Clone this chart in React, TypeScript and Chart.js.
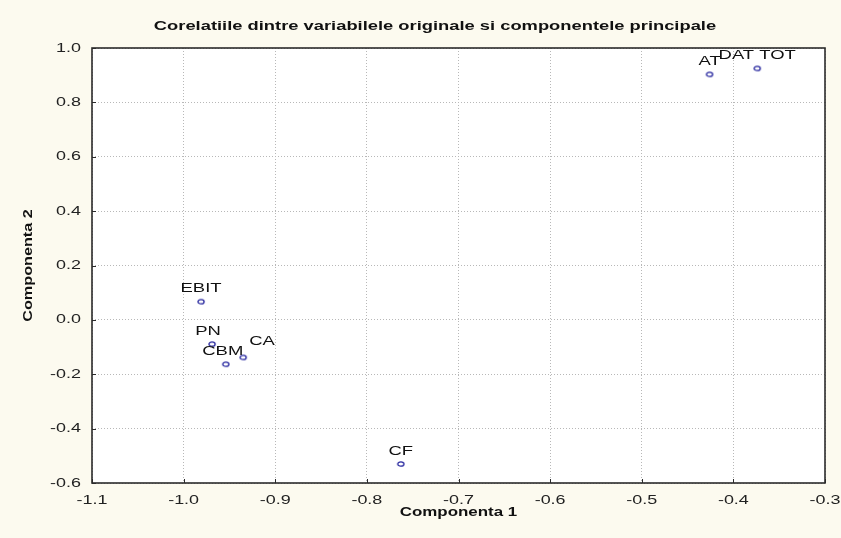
import React, { useEffect, useRef } from "react";
import { Chart, registerables } from "chart.js";

Chart.register(...registerables);

const labels = ["AT", "DAT TOT", "EBIT", "PN", "CBM", "CA", "CF"];
const comp1 = [-0.426, -0.374, -0.981, -0.969, -0.954, -0.935, -0.763];
const comp2 = [0.903, 0.925, 0.067, -0.089, -0.163, -0.138, -0.530];
const xTicks = { min: -1.1, max: -0.3, step: 0.1 };
const yTicks = { min: -0.6, max: 1.0, step: 0.2 };
const titleText = "Corelatiile dintre variabilele originale si componentele principale";
const xTitle = "Componenta 1";
const yTitle = "Componenta 2";

const FONT = "'Liberation Sans', Arial, sans-serif";

function stretchText(ctx: any, text: string, x: number, y: number, font: string, align: string, sx: number, rot = 0) {
  ctx.save();
  ctx.translate(x, y);
  if (rot) ctx.rotate(rot);
  ctx.scale(sx, 1);
  ctx.font = font;
  ctx.textAlign = align;
  ctx.textBaseline = "middle";
  ctx.fillText(text, 0, 0);
  ctx.restore();
}

const bgPlugin = {
  id: "bgPlugin",
  beforeDraw(chart: any) {
    const { ctx, chartArea } = chart;
    ctx.save();
    ctx.fillStyle = "#fcfaef";
    ctx.fillRect(0, 0, chart.width, chart.height);
    ctx.fillStyle = "#ffffff";
    ctx.fillRect(chartArea.left, chartArea.top, chartArea.right - chartArea.left, chartArea.bottom - chartArea.top);
    ctx.restore();
  },
  afterDraw(chart: any) {
    const { ctx, chartArea } = chart;
    const { left, right, top, bottom } = chartArea;
    const xs = chart.scales.x;
    const ys = chart.scales.y;
    ctx.save();
    // small inward tick marks
    ctx.strokeStyle = "#2b2b2b";
    ctx.lineWidth = 1;
    ctx.beginPath();
    xs.ticks.forEach((t: any) => {
      const px = Math.round(xs.getPixelForValue(t.value)) + 0.5;
      ctx.moveTo(px, bottom);
      ctx.lineTo(px, bottom - 4);
    });
    ys.ticks.forEach((t: any) => {
      const py = Math.round(ys.getPixelForValue(t.value)) + 0.5;
      ctx.moveTo(left, py);
      ctx.lineTo(left + 4, py);
    });
    ctx.stroke();
    // frame
    ctx.strokeStyle = "#2b2b2b";
    ctx.lineWidth = 1.6;
    ctx.strokeRect(left, top, right - left, bottom - top);
    // tick labels
    ctx.fillStyle = "#222";
    xs.ticks.forEach((t: any) => {
      const px = xs.getPixelForValue(t.value);
      stretchText(ctx, Number(t.value).toFixed(1), px, bottom + 17, "13px " + FONT, "center", 1.38);
    });
    ys.ticks.forEach((t: any) => {
      const py = ys.getPixelForValue(t.value);
      stretchText(ctx, Number(t.value).toFixed(1), left - 11, py, "13px " + FONT, "right", 1.38);
    });
    // titles
    ctx.fillStyle = "#111";
    stretchText(ctx, titleText, 435, 26, "bold 13px " + FONT, "center", 1.41);
    stretchText(ctx, xTitle, (left + right) / 2, 513, "bold 12px " + FONT, "center", 1.41);
    stretchText(ctx, yTitle, 29, (top + bottom) / 2, "bold 12px " + FONT, "center", 1.35, -Math.PI / 2);
    ctx.restore();
  },
};

const labelOffsets: Record<string, [number, number, string]> = {
  CA: [6, -15.5, "left"],
  PN: [-4, -12.5, "center"],
  CBM: [-3, -12.5, "center"],
};

const labelPlugin = {
  id: "labelPlugin",
  afterDatasetsDraw(chart: any) {
    const { ctx } = chart;
    const meta = chart.getDatasetMeta(0);
    ctx.save();
    ctx.fillStyle = "#111";
    meta.data.forEach((pt: any, i: number) => {
      const name = labels[i];
      const off = labelOffsets[name] || [0, -13, "center"];
      stretchText(ctx, name, pt.x + off[0], pt.y + off[1], "13px " + FONT, off[2], 1.42);
    });
    ctx.restore();
  },
};

function makeMarker() {
  const c = document.createElement("canvas");
  c.width = 10;
  c.height = 8;
  const g = c.getContext("2d") as CanvasRenderingContext2D;
  g.strokeStyle = "#2a2aa0";
  g.lineWidth = 1.3;
  g.beginPath();
  g.ellipse(5, 4, 3.1, 2.2, 0, 0, Math.PI * 2);
  g.stroke();
  return c;
}

export default function App() {
  const ref = useRef<HTMLCanvasElement>(null);
  useEffect(() => {
    const marker = makeMarker();
    const gridCommon = { color: "#b8b8b8", drawTicks: false, lineWidth: 1 };
    const chart = new Chart(ref.current as HTMLCanvasElement, {
      type: "scatter",
      data: {
        datasets: [
          {
            data: comp1.map((x, i) => ({ x, y: comp2[i] })),
            pointStyle: marker,
            pointRadius: 4,
          },
        ],
      },
      options: {
        animation: false,
        responsive: false,
        layout: { padding: { top: 48, right: 16, left: 0, bottom: 0 } },
        plugins: { legend: { display: false }, tooltip: { enabled: false }, title: { display: false } },
        scales: {
          x: {
            type: "linear",
            min: xTicks.min,
            max: xTicks.max,
            afterFit(scale: any) {
              scale.height = 55;
            },
            ticks: { stepSize: xTicks.step, display: false },
            grid: gridCommon,
            border: { display: false, dash: [1, 2] },
            title: { display: false },
          },
          y: {
            type: "linear",
            min: yTicks.min,
            max: yTicks.max,
            afterFit(scale: any) {
              scale.width = 92;
            },
            ticks: { stepSize: yTicks.step, display: false },
            grid: gridCommon,
            border: { display: false, dash: [1, 2] },
            title: { display: false },
          },
        },
      },
      plugins: [bgPlugin, labelPlugin],
    } as any);
    return () => chart.destroy();
  }, []);
  return (
    <div style={{ position: "fixed", left: 0, top: 0, width: 841, height: 538 }}>
      <canvas ref={ref} width={841} height={538} style={{ width: 841, height: 538 }} />
    </div>
  );
}
